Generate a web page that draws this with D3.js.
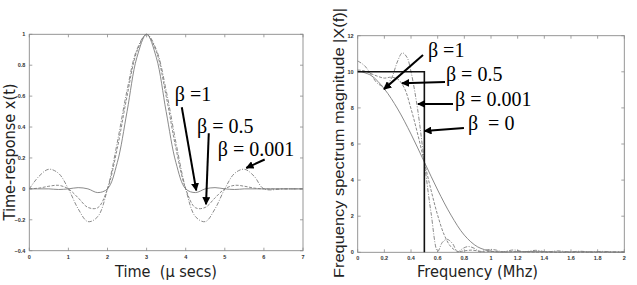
<!DOCTYPE html>
<html><head><meta charset="utf-8">
<script src="https://cdn.jsdelivr.net/npm/d3@7"></script>
<style>
body{margin:0;background:#fff;}
svg text{white-space:pre;}
</style></head>
<body>
<svg id="chart" width="637" height="285"></svg>
<script>
// ---------- DATA ----------
const timeTicks = [0,1,2,3,4,5,6,7];
const timeYTicks = [-0.4,-0.2,0,0.2,0.4,0.6,0.8,1];
const freqTicks = [0,0.2,0.4,0.6,0.8,1,1.2,1.4,1.6,1.8,2];
const freqYTicks = [0,2,4,6,8,10,12];

const timeT = [0,0.25,0.5,0.75,1,1.25,1.5,1.75,2,2.25,2.5,2.75,3,3.25,3.5,3.75,4,4.25,4.5,4.75,5,5.25,5.5,5.75,6,6.5,7];
const timeB0001 = [0,0.082,0.127,0.100,0,-0.129,-0.212,-0.180,0,0.300,0.637,0.900,1,0.900,0.637,0.300,0,-0.180,-0.212,-0.129,0,0.100,0.127,0.082,0,0,0];
const timeB05 = [0,0.005,0.017,0.023,0,-0.058,-0.120,-0.122,0,0.262,0.600,0.887,1,0.887,0.600,0.262,0,-0.122,-0.120,-0.058,0,0.023,0.017,0.005,0,0,0];
const timeB1 = [0,0,0,-0.004,0,0.008,0,-0.024,0,0.170,0.500,0.849,1,0.849,0.500,0.170,0,-0.024,0,0.008,0,-0.004,0,0,0,0,0];

const specB0001 = [[0,10.6],[0.05,10.35],[0.1,9.85],[0.15,9.35],[0.2,9.2],[0.25,9.6],[0.3,10.6],[0.335,11.05],[0.37,10.8],[0.4,10.0],[0.45,7.9],[0.5,5.0],[0.55,2.2],[0.6,0.05],[0.635,0.55],[0.67,0.72],[0.71,0.5],[0.75,0.03],[0.79,0.22],[0.83,0.32],[0.875,0.22],[0.915,0.03],[0.96,0.12],[1.0,0.16],[1.04,0.12],[1.085,0.03],[1.17,0.13],[1.25,0.03],[1.335,0.11],[1.42,0.02],[1.5,0.08],[1.585,0.02],[1.665,0.06],[1.75,0.02],[1.835,0.05],[1.92,0.02],[2.0,0.03]];
const specB05 = [[0,10.1],[0.05,10.05],[0.1,9.9],[0.15,9.75],[0.2,9.65],[0.25,9.7],[0.3,9.6],[0.35,9.1],[0.4,7.95],[0.45,6.55],[0.5,5.0],[0.55,3.45],[0.6,2.05],[0.65,0.95],[0.7,0.3],[0.75,0.05],[0.8,0.08],[0.85,0.12],[0.9,0.08],[0.95,0.03],[1.0,0.05],[1.1,0.02],[1.2,0.04],[1.3,0.01],[2.0,0.01]];
const specB1 = [[0,10.05],[0.1,9.8],[0.2,9.05],[0.3,7.94],[0.4,6.55],[0.5,5.0],[0.6,3.45],[0.7,2.06],[0.8,0.95],[0.9,0.3],[1.0,0.06],[1.05,0.02],[1.2,0.03],[1.35,0.05],[1.5,0.02],[1.7,0.03],[2.0,0.01]];
const specB0 = [[0,10],[0.5,10],[0.5,0]];

const leftLabels = ["β =1","β = 0.5","β = 0.001"];
const rightLabels = ["β =1","β = 0.5","β = 0.001","β  = 0"];

// ---------- LAYOUT ----------
const SERIF = "'Liberation Serif', 'Times New Roman', Times, 'DejaVu Serif', serif";
const SANS = "'DejaVu Sans', 'Liberation Sans', sans-serif";
const svg = d3.select("#chart");
svg.append("defs").append("marker")
  .attr("id","ah").attr("viewBox","0 0 10 10").attr("refX",9).attr("refY",5)
  .attr("markerWidth",4).attr("markerHeight",4).attr("orient","auto")
  .attr("markerUnits","strokeWidth")
  .append("path").attr("d","M0,0 L10,5 L0,10 z").attr("fill","#000");

function frame(g, x, y, xt, yt, xfmt, yfmt){
  const [x0,x1]=x.range(), [y0,y1]=y.range();
  g.append("rect").attr("x",x0).attr("y",y1).attr("width",x1-x0).attr("height",y0-y1)
    .attr("fill","none").attr("stroke","#8a8a8a").attr("stroke-width",0.9);
  const tl=3;
  xt.forEach(v=>{
    const px=x(v);
    g.append("line").attr("x1",px).attr("x2",px).attr("y1",y0).attr("y2",y0-tl).attr("stroke","#8a8a8a").attr("stroke-width",0.8);
    g.append("line").attr("x1",px).attr("x2",px).attr("y1",y1).attr("y2",y1+tl).attr("stroke","#8a8a8a").attr("stroke-width",0.8);
    g.append("text").attr("x",px).attr("y",y0+8).attr("text-anchor","middle")
      .style("font-family","'Liberation Sans', Arial, sans-serif").attr("font-size",5.5).attr("font-weight","bold").attr("fill","#333").text(xfmt(v));
  });
  yt.forEach(v=>{
    const py=y(v);
    g.append("line").attr("x1",x0).attr("x2",x0+tl).attr("y1",py).attr("y2",py).attr("stroke","#8a8a8a").attr("stroke-width",0.8);
    g.append("line").attr("x1",x1).attr("x2",x1-tl).attr("y1",py).attr("y2",py).attr("stroke","#8a8a8a").attr("stroke-width",0.8);
    g.append("text").attr("x",x0-4).attr("y",py+2).attr("text-anchor","end")
      .style("font-family","'Liberation Sans', Arial, sans-serif").attr("font-size",5.5).attr("font-weight","bold").attr("fill","#333").text(yfmt(v));
  });
}

function annot(g, x, y, label, tx, ty, ax0, ay0, ax1, ay1){
  g.append("text").style("font-family",SERIF).attr("x",x(tx)).attr("y",y(ty))
    .attr("font-size",20).attr("fill","#000").text(label);
  g.append("line").attr("x1",x(ax0)).attr("y1",y(ay0)).attr("x2",x(ax1)).attr("y2",y(ay1))
    .attr("stroke","#000").attr("stroke-width",2).attr("marker-end","url(#ah)");
}

// ---------- LEFT: time response ----------
const xL = d3.scaleLinear().domain([0,7]).range([29.3,303]);
const yL = d3.scaleLinear().domain([-0.4,1]).range([250.7,34.3]);
const gL = svg.append("g");
frame(gL,xL,yL,timeTicks,timeYTicks,d=>d3.format("")(d),d=>d3.format("")(d));

const lineL = d3.line().x(d=>xL(d[0])).y(d=>yL(d[1])).curve(d3.curveCatmullRom.alpha(0.5));
const timeSeries = [
  {vals:timeB0001, dash:"4,1.5,1,1.5"},
  {vals:timeB05, dash:"3,1.5"},
  {vals:timeB1, dash:null}
];
timeSeries.forEach(s=>{
  gL.append("path").datum(timeT.map((t,i)=>[t,s.vals[i]]))
    .attr("d",lineL).attr("fill","none").attr("stroke","#7d7d7d").attr("stroke-width",0.9)
    .attr("stroke-dasharray",s.dash);
});

annot(gL,xL,yL,leftLabels[0],3.72,0.567,3.90,0.528,4.27,-0.01);
annot(gL,xL,yL,leftLabels[1],4.29,0.36,4.59,0.36,4.52,-0.10);
annot(gL,xL,yL,leftLabels[2],4.82,0.21,6.02,0.19,5.55,0.135);

gL.append("text").style("font-family",SANS).attr("x",166).attr("y",277).attr("text-anchor","middle")
  .attr("font-size",16).attr("fill","#222")
  .attr("textLength",102).attr("lengthAdjust","spacingAndGlyphs").text("Time  (μ secs)");
gL.append("text").style("font-family",SANS).attr("transform","translate(15,152) rotate(-90)").attr("text-anchor","middle")
  .attr("font-size",16).attr("fill","#222")
  .attr("textLength",137).attr("lengthAdjust","spacingAndGlyphs").text("Time-response x(t)");

// ---------- RIGHT: spectrum ----------
const xR = d3.scaleLinear().domain([0,2]).range([357.7,624.3]);
const yR = d3.scaleLinear().domain([0,12]).range([252.3,35.7]);
const gR = svg.append("g");
frame(gR,xR,yR,freqTicks,freqYTicks,d=>d3.format("")(d),d=>d3.format("")(d));

const lineR = d3.line().x(d=>xR(d[0])).y(d=>yR(d[1])).curve(d3.curveCatmullRom.alpha(0.5));
[{vals:specB0001,dash:"4,1.5,1,1.5"},{vals:specB05,dash:"3,1.5"},{vals:specB1,dash:null}].forEach(s=>{
  gR.append("path").datum(s.vals).attr("d",lineR).attr("fill","none")
    .attr("stroke","#7d7d7d").attr("stroke-width",0.9).attr("stroke-dasharray",s.dash);
});
gR.append("path").datum(specB0).attr("d",d3.line().x(d=>xR(d[0])).y(d=>yR(d[1])))
  .attr("fill","none").attr("stroke","#111").attr("stroke-width",1.6);

annot(gR,xR,yR,rightLabels[0],0.527,10.82,0.49,10.93,0.197,9.04);
annot(gR,xR,yR,rightLabels[1],0.662,9.49,0.655,9.43,0.332,9.37);
annot(gR,xR,yR,rightLabels[2],0.73,8.1,0.715,8.22,0.452,8.22);
annot(gR,xR,yR,rightLabels[3],0.827,6.77,0.797,6.89,0.50,6.72);

gR.append("text").style("font-family",SANS).attr("x",477.5).attr("y",277).attr("text-anchor","middle")
  .attr("font-size",16).attr("fill","#222")
  .attr("textLength",121).attr("lengthAdjust","spacingAndGlyphs").text("Frequency (Mhz)");
gR.append("text").style("font-family","'Liberation Sans', Arial, sans-serif").attr("transform","translate(344,143) rotate(-90)").attr("text-anchor","middle")
  .attr("font-size",15.5).attr("fill","#222")
  .attr("textLength",270).attr("lengthAdjust","spacingAndGlyphs").text("Frequency spectrum magnitude |X(f)|");
</script>
</body></html>
